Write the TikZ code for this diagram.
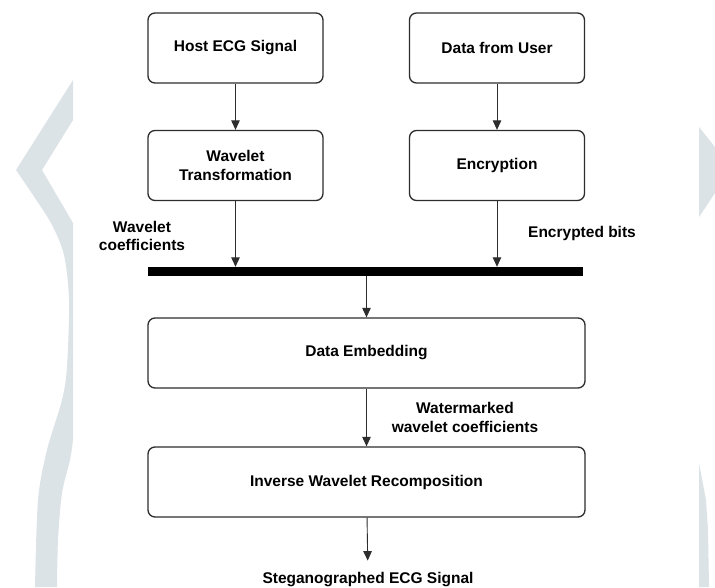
\documentclass[tikz,border=0pt]{standalone}
\usepackage{fontspec}
\setmainfont{Liberation Sans}
\usetikzlibrary{arrows.meta}
\definecolor{markgray}{RGB}{220,227,231}
\definecolor{linegray}{RGB}{45,45,45}
\tikzset{
	block/.style={draw=linegray, line width=1.3pt, rounded corners=7pt, fill=white, minimum height=70pt, align=center, font=\fontsize{15.5}{18.5}\selectfont\bfseries},
	smallblock/.style={block, minimum width=175pt},
	wideblock/.style={block, minimum width=437pt},
	flow/.style={draw=linegray, line width=0.9pt, -{Triangle[width=8.5pt,length=9.5pt]}},
	note/.style={align=center, font=\fontsize{15.5}{18.5}\selectfont\bfseries},
}

\begin{document}
\begin{tikzpicture}[x=1pt, y=-1pt]
			%%%%% START %%%%%
			
			\useasboundingbox (0, 0) rectangle (715, 587);
			\fill[white] (0, 0) rectangle (715, 587);
			
			% faint page marks at the sides
			\fill[markgray] (73, 80) -- (16, 170) -- plot[smooth] coordinates {(16, 170) (35, 198) (52, 225) (64, 255) (69, 300) (67, 367) (62, 400) (47, 450) (38, 500) (35, 587)}
				-- plot[smooth] coordinates {(57, 587) (58, 540) (62, 493) (70, 460) (73, 440)} -- (73, 223) -- (42, 170) -- (73, 120) -- cycle;
			\fill[markgray] (699, 127) -- (715, 147) -- (715, 193) -- (699, 217) -- cycle;
			\fill[markgray] (699, 463) -- (706, 500) -- (708, 530) -- (709, 587) -- (699, 587) -- cycle;
			
			\node[smallblock] (host) at (235.5, 48) {Host ECG Signal};
			\node[smallblock] (user) at (497, 48) {Data from User};
			\node[smallblock] (wavelet) at (235.5, 165.5) {Wavelet\\Transformation};
			\node[smallblock] (encrypt) at (497, 165.5) {Encryption};
			
			\node[fill=black, inner sep=0, minimum width=435pt, minimum height=9pt] (bus) at (365.5, 271.5) {};
			
			\node[wideblock] (embed) at (366.5, 353) {Data Embedding};
			\node[wideblock] (inverse) at (366.5, 482) {Inverse Wavelet Recomposition};
			\node[note, inner sep=0, anchor=base] (output) at (368, 583) {Steganographed ECG Signal};
			
			\node[note] (coefflabel) at (142, 236) {Wavelet\\coefficients};
			\node[note] (bitslabel) at (582, 233) {Encrypted bits};
			\node[note] (marklabel) at (465, 417.5) {Watermarked\\wavelet coefficients};
			
			\draw[flow] (host) -- (wavelet);
			\draw[flow] (user) -- (encrypt);
			\draw[flow] (wavelet) -- (wavelet |- bus.north);
			\draw[flow] (encrypt) -- (encrypt |- bus.north);
			\draw[flow] (bus.south -| embed) -- (embed);
			\draw[flow] (embed) -- (inverse);
			\draw[flow, shorten >=11pt] (inverse) -- (output);
			
			%%%%% END %%%%%
		\end{tikzpicture}
\end{document}
